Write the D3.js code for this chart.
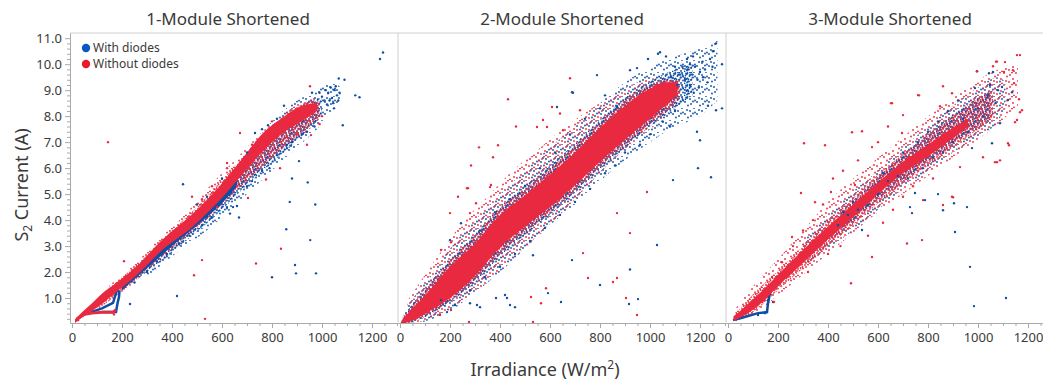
<!DOCTYPE html>
<html lang="en">
<head>
<meta charset="utf-8">
<title>S2 Current vs Irradiance</title>
<script src="https://d3js.org/d3.v7.min.js"></script>
<style>
  body { margin: 0; background: #fff; }
  text { font-family: "Noto Sans", "Open Sans", sans-serif; fill: #3a3a3a; }
</style>
</head>
<body>
<script>
const panelTitles = ["1-Module Shortened", "2-Module Shortened", "3-Module Shortened"];
const seriesNames = ["With diodes", "Without diodes"];
const xTicks = [0, 200, 400, 600, 800, 1000, 1200];
const yTicks = [1, 2, 3, 4, 5, 6, 7, 8, 9, 10, 11];

// point clouds read off as bands: [irradiance, low current, high current]
// sparse = thin scatter, dense = thick scatter, core = solid
const p1BlueSparse = [[300,1.8,2.5],[400,2.6,3.4],[500,3.3,4.4],[600,4.1,5.4],[700,5.0,6.6],[800,5.9,7.8],[900,6.8,8.6],[980,7.5,9.0],[1040,8.2,9.3],[1075,8.5,9.1]];
const p1RedSparse = [[150,0.9,1.5],[250,1.6,2.3],[350,2.5,3.3],[450,3.3,4.2],[550,4.1,5.3],[650,5.0,6.3],[750,5.9,7.3],[850,6.8,8.1],[950,7.5,8.7],[990,7.9,8.7]];
const p1BlueDense = [[200,1.3,1.7],[300,2.0,2.6],[400,2.75,3.35],[500,3.55,4.3],[600,4.4,5.3],[700,5.35,6.35],[800,6.2,7.45],[900,7.05,8.3],[960,7.6,8.6],[1000,8.0,8.7]];
const p1RedDense = [[100,0.55,1.0],[200,1.25,1.8],[300,2.1,2.65],[400,2.9,3.6],[500,3.75,4.5],[600,4.6,5.55],[700,5.5,6.55],[800,6.4,7.6],[900,7.2,8.35],[960,7.7,8.6],[990,8.0,8.55]];
const p1BlueCore = [[200,1.3,1.5],[300,2.15,2.4],[400,3.0,3.3],[500,3.8,4.1],[600,4.65,5.0],[660,5.3,5.6]];
const p1RedCore = [[12,0.04,0.18],[40,0.25,0.45],[80,0.5,0.8],[130,0.85,1.25],[180,1.25,1.6],[256,1.85,2.2],[356,2.8,3.2],[484,3.75,4.25],[590,4.75,5.3],[676,5.7,6.3],[764,6.65,7.35],[850,7.4,8.0],[920,7.8,8.4],[980,8.2,8.5]];
const p1BlueTracks = [[[76,0.46],[120,0.6],[164,0.81],[176,1.19],[186,1.45]], [[120,0.46],[176,0.46],[182,0.8],[188,1.04],[190,1.3]]];
const p1RedTracks = [[[20,0.2],[50,0.38],[80,0.42],[120,0.45],[165,0.45],[175,0.55]]];
const p1BluePts = [[1232,10.2],[1244,10.45],[1133,8.8],[1150,8.73],[1083,7.65],[1090,9.4],[1067,9.45],[880,5.6],[943,5.45],[871,4.7],[973,4.6],[857,3.65],[953,3.23],[892,2.27],[896,1.95],[976,1.95],[800,1.8],[420,1.08],[232,0.77],[444,5.38],[668,4.1],[644,4.5],[632,4.25],[732,7.35],[784,7.65],[848,8.4],[908,6.27],[660,4.54],[1010,8.6],[1025,8.9],[1040,8.7],[1050,9.0],[1060,8.8],[1035,9.1],[1020,8.45],[1045,8.5],[1055,9.15],[1070,8.9],[1000,8.75],[1030,8.6],[1065,8.6],[1015,9.0],[1048,8.3],[990,8.9],[960,8.9],[970,7.6],[940,7.4],[920,7.3],[880,7.0],[860,6.9],[820,6.5],[790,6.0],[760,5.9],[720,5.5],[700,5.3],[620,4.5],[560,4.1],[520,3.8],[470,3.4],[430,3.1],[380,2.7],[340,2.4],[300,2.0],[250,1.6],[600,5.6],[700,6.6],[820,7.9],[760,7.5],[540,4.9],[500,4.6]];
const p1RedPts = [[144,7.0],[952,9.15],[836,2.9],[520,2.46],[736,2.33],[488,1.88],[532,0.2],[208,2.42],[672,7.35],[168,0.37],[24,0.15],[832,6.0],[776,5.56],[704,4.85],[940,6.9],[956,7.27],[480,4.9],[560,5.3],[620,6.0],[720,6.9],[800,7.8],[660,5.3],[580,4.5],[900,7.3],[860,7.2],[990,7.7],[1000,8.0],[620,6.2],[520,4.8]];

const p2BlueSparse = [[20,0.0,0.6],[100,0.1,1.6],[200,0.5,2.9],[300,1.2,4.0],[400,2.0,5.0],[500,2.9,5.9],[600,3.8,6.8],[700,4.6,7.6],[800,5.5,8.5],[900,6.3,9.3],[1000,7.0,9.9],[1100,7.6,10.3],[1200,8.0,10.6],[1270,8.6,10.9]];
const p2RedSparse = [[30,0.0,0.9],[150,0.3,2.6],[250,0.9,3.9],[350,1.6,4.9],[450,2.5,5.9],[550,3.4,6.7],[650,4.3,7.5],[750,5.3,8.2],[850,6.3,8.8],[950,7.1,9.3],[1050,7.9,9.5],[1110,8.5,9.4]];
const p2BlueDense = [[10,0.0,0.3],[100,0.25,1.35],[200,0.85,2.45],[300,1.6,3.45],[400,2.6,4.5],[500,3.45,5.3],[600,4.2,6.1],[700,5.05,6.95],[800,5.95,7.85],[900,6.8,8.7],[1000,7.6,9.35],[1100,8.3,9.8],[1170,8.8,10.0]];
const p2RedDense = [[10,0.0,0.25],[100,0.3,1.3],[200,0.9,2.45],[300,1.7,3.4],[400,2.7,4.45],[500,3.55,5.2],[600,4.3,6.0],[700,5.15,6.85],[800,6.05,7.75],[900,6.9,8.6],[1000,7.7,9.2],[1080,8.3,9.4],[1120,8.7,9.35]];
const p2BlueCore = [];
const p2RedCore = [[5,0.02,0.12],[40,0.1,0.5],[100,0.4,1.1],[200,1.0,2.2],[300,1.85,3.1],[400,2.95,4.2],[500,3.75,4.95],[600,4.5,5.75],[700,5.35,6.6],[800,6.25,7.55],[900,7.1,8.4],[1000,7.9,9.05],[1060,8.4,9.3],[1110,8.8,9.3]];
const p2BlueTracks = [[[5,0.02],[60,0.3],[120,0.8],[160,1.2]]];
const p2RedTracks = [];
const p2BluePts = [[1264,10.8],[1252,10.5],[1032,10.4],[1064,10.3],[788,9.58],[692,8.9],[1288,10.0],[1288,8.3],[1264,8.23],[1232,8.4],[1200,7.07],[1188,7.4],[1244,5.65],[1092,5.54],[1212,9.5],[1160,10.0],[1172,10.3],[1148,10.2],[920,9.77],[948,9.85],[868,8.35],[820,8.8],[1040,10.46],[992,10.2],[688,8.92],[628,8.35],[1192,6.0],[1028,3.04],[920,2.1],[952,0.96],[916,0.77],[800,1.5],[688,2.46],[532,2.65],[428,1.0],[384,1.0],[308,0.73],[440,0.73],[220,0.73],[188,0.46],[200,3.23],[244,3.88],[164,0.92],[280,0.8],[420,1.12],[460,0.65],[320,0.65],[592,1.19],[644,0.85],[1120,9.6],[1140,9.4],[1150,9.8],[1160,9.2],[1170,9.6],[1180,9.9],[1130,9.9],[1190,9.4],[1200,9.7],[1210,10.1],[1220,9.8],[1110,9.2],[1150,9.0],[1175,8.9],[1195,9.1],[1230,9.3],[1240,10.2],[1250,9.9],[1100,9.9],[1085,9.5],[1100,8.2],[1080,7.6],[1050,7.8],[1000,7.3],[960,6.9],[900,6.6],[860,6.1],[820,5.8],[760,5.2],[700,4.7],[640,4.2],[580,3.7],[520,3.2],[460,2.7],[400,2.2],[340,1.8],[280,1.3],[500,5.3],[560,6.0],[620,6.6],[680,7.3],[740,7.9],[800,8.3],[440,4.8],[380,4.3],[320,3.6]];
const p2RedPts = [[680,9.46],[432,8.65],[464,7.6],[316,6.8],[392,6.88],[284,6.1],[372,6.42],[268,5.23],[232,4.9],[200,4.27],[280,4.27],[360,5.27],[548,7.58],[868,4.27],[988,5.08],[868,1.77],[852,1.62],[904,1.0],[948,0.35],[532,0.08],[276,0.08],[752,1.77],[732,2.73],[920,3.5],[608,8.35],[572,7.85],[588,7.58],[640,8.1],[720,8.23],[652,7.46],[272,5.23],[304,4.65],[204,3.15],[164,2.85],[364,5.35],[524,1.04],[584,1.38],[564,0.8],[204,0.54],[160,0.35]];

const p3BlueSparse = [[300,2.2,3.2],[400,2.9,4.2],[500,3.6,5.1],[600,4.4,5.9],[700,5.2,6.8],[800,5.9,7.6],[900,6.6,8.4],[1000,7.2,9.1],[1080,7.8,9.5],[1110,8.3,9.3]];
const p3RedSparse = [[30,0.1,0.6],[100,0.35,1.45],[200,1.1,2.5],[300,1.9,3.6],[400,2.7,4.7],[500,3.5,5.6],[600,4.3,6.4],[700,5.0,7.2],[800,5.7,8.0],[900,6.4,8.7],[1000,7.1,9.4],[1080,7.7,9.8],[1160,8.4,10.1]];
const p3BlueDense = [[450,3.6,4.3],[550,4.4,5.2],[650,5.2,6.1],[750,5.9,6.9],[850,6.6,7.7],[950,7.3,8.4],[1050,7.9,9.0]];
const p3RedDense = [[30,0.1,0.4],[100,0.45,1.15],[200,1.3,2.05],[300,2.15,3.0],[400,3.0,4.0],[500,3.8,4.85],[600,4.65,5.75],[700,5.4,6.55],[800,6.1,7.3],[900,6.8,8.0],[1000,7.5,8.7],[1060,7.9,9.0]];
const p3BlueCore = [];
const p3RedCore = [[22,0.12,0.3],[60,0.3,0.6],[100,0.55,0.95],[150,0.95,1.4],[200,1.45,1.9],[300,2.35,2.85],[400,3.25,3.75],[500,4.1,4.6],[600,5.0,5.45],[700,5.8,6.25],[800,6.45,6.9],[900,7.15,7.55],[960,7.6,7.9]];
const p3BlueTracks = [[[20,0.15],[60,0.25],[120,0.42],[156,0.46],[160,0.8],[166,1.1],[172,1.3]]];
const p3RedTracks = [];
const p3BluePts = [[968,2.2],[984,0.69],[1112,1.0],[908,3.54],[860,4.38],[956,4.5],[1056,6.96],[1120,8.62],[1048,9.2],[1060,9.7],[996,9.73],[748,5.04],[788,4.77],[736,4.27],[536,3.62],[148,0.42],[120,0.35],[160,0.92],[180,0.85],[1044,9.65],[988,9.08],[1096,9.12],[1136,8.92],[1088,7.73],[976,6.77],[904,4.65],[840,5.0],[728,4.5],[1000,8.3],[1020,8.0],[960,7.4],[940,7.9],[900,7.0],[860,6.6],[820,6.4],[780,6.0],[720,5.6],[680,5.7],[640,5.5],[600,5.0],[560,4.6],[520,4.4],[480,4.2],[440,3.8],[460,4.3],[500,4.7],[620,5.8],[700,6.6],[760,7.0],[800,7.4],[840,7.8],[880,8.2],[920,8.6],[1040,8.8],[1070,8.5],[1080,9.0]];
const p3RedPts = [[304,6.96],[388,6.88],[292,5.04],[348,4.69],[496,7.38],[576,6.81],[652,8.5],[700,8.04],[760,8.81],[860,9.15],[996,9.73],[1072,10.1],[1156,10.35],[1168,10.35],[1108,10.08],[1140,9.77],[1168,8.15],[1156,7.85],[1120,6.96],[1068,6.23],[1088,6.3],[896,4.9],[776,3.23],[716,3.1],[576,2.58],[492,1.57],[412,5.08],[508,5.35],[184,0.85],[256,3.35],[216,2.38],[176,1.81],[720,6.38],[800,6.42],[696,7.35],[928,6.04],[1060,9.92],[1076,10.1],[1104,9.7],[1144,9.27],[1164,8.65],[1176,8.23],[1148,7.77],[1124,6.88],[1076,6.23],[1020,6.42],[896,8.88],[848,8.38],[764,8.8],[656,8.5],[536,7.42],[900,4.88],[860,4.58],[780,4.77],[340,4.0],[380,4.6],[420,5.6],[460,5.9],[520,6.3],[600,7.0],[640,7.6],[560,3.4],[620,3.9],[660,4.4],[700,4.9],[740,5.3],[820,5.6],[300,3.6],[260,3.0],[320,2.0],[400,2.7],[450,3.0]];

const panelData = [
  {blueSparse: p1BlueSparse, redSparse: p1RedSparse, blueDense: p1BlueDense, redDense: p1RedDense, blueCore: p1BlueCore, redCore: p1RedCore, blueTracks: p1BlueTracks, redTracks: p1RedTracks, bluePts: p1BluePts, redPts: p1RedPts},
  {blueSparse: p2BlueSparse, redSparse: p2RedSparse, blueDense: p2BlueDense, redDense: p2RedDense, blueCore: p2BlueCore, redCore: p2RedCore, blueTracks: p2BlueTracks, redTracks: p2RedTracks, bluePts: p2BluePts, redPts: p2RedPts},
  {blueSparse: p3BlueSparse, redSparse: p3RedSparse, blueDense: p3BlueDense, redDense: p3RedDense, blueCore: p3BlueCore, redCore: p3RedCore, blueTracks: p3BlueTracks, redTracks: p3RedTracks, bluePts: p3BluePts, redPts: p3RedPts}
];

const W = 1043, H = 384;
const blue = "#0d4ea6", red = "#e8293f";
const panelLefts = [70, 398, 726];
const panelW = 328;
const plotTop = 33, plotBottom = 323;

const svg = d3.select("body").append("svg")
    .attr("width", W)
    .attr("height", H);

// speckle textures for the thick parts of the clouds
const defs = svg.append("defs");
const denseDots = [[1,1],[4.5,2],[8,0.5],[10.5,3],[2.5,4.5],[6,5],[9,6.5],[0.5,8],[4,8.5],[7,9],[11,9.5],[2,11],[5.5,11.5],[9,11.8],[6.5,2.5],[11.5,6],[3.5,6.8],[7.5,7],[1,5.8],[10,0.8],[5,10],[8.5,4]];
const sparseDots = [[2,3],[8,1],[5,7],[10,9],[1,10],[11,4.5],[6,11.5],[4,0.5]];
function speckle(id, color, dots, shift) {
  const p = defs.append("pattern")
      .attr("id", id)
      .attr("patternUnits", "userSpaceOnUse")
      .attr("width", 12)
      .attr("height", 12);
  p.selectAll("circle").data(dots).enter().append("circle")
      .attr("cx", d => (d[0] + shift) % 12)
      .attr("cy", d => (d[1] + shift) % 12)
      .attr("r", 0.9)
      .attr("fill", color);
}
speckle("blueDense", blue, denseDots, 6.5);
speckle("redDense", red, denseDots, 0);
speckle("blueSparse", blue, sparseDots, 5);
speckle("redSparse", red, sparseDots, 0);

const y = d3.scaleLinear().domain([0.04, 11.2]).range([plotBottom, plotTop]);

panelData.forEach((pd, i) => {
  const left = panelLefts[i];
  const x = d3.scaleLinear().domain([-8, 1304]).range([left, left + panelW]);

  defs.append("clipPath").attr("id", "clip" + i)
    .append("rect").attr("x", left).attr("y", plotTop).attr("width", panelW).attr("height", plotBottom - plotTop);

  const g = svg.append("g").attr("clip-path", `url(#clip${i})`);

  const area = d3.area()
      .x(d => x(d[0]))
      .y0(d => y(d[1]))
      .y1(d => y(d[2]))
      .curve(d3.curveMonotoneX);
  const line = d3.line()
      .x(d => x(d[0]))
      .y(d => y(d[1]));

  g.append("path").datum(pd.blueSparse).attr("d", area).attr("fill", "url(#blueSparse)");
  g.append("path").datum(pd.redSparse).attr("d", area).attr("fill", "url(#redSparse)");
  g.append("path").datum(pd.blueDense).attr("d", area).attr("fill", "url(#blueDense)");
  g.append("path").datum(pd.redDense).attr("d", area).attr("fill", "url(#redDense)");
  if (pd.blueCore.length) g.append("path").datum(pd.blueCore).attr("d", area).attr("fill", blue);

  g.selectAll("path.btrack").data(pd.blueTracks).enter().append("path")
      .attr("class", "btrack")
      .attr("d", line).attr("fill", "none").attr("stroke", blue).attr("stroke-width", 2.5);

  g.append("path").datum(pd.redCore).attr("d", area).attr("fill", red);

  g.selectAll("path.rtrack").data(pd.redTracks).enter().append("path")
      .attr("class", "rtrack")
      .attr("d", line).attr("fill", "none").attr("stroke", red).attr("stroke-width", 3);

  g.selectAll("circle.blue").data(pd.bluePts).enter().append("circle")
      .attr("class", "blue")
      .attr("cx", d => x(d[0])).attr("cy", d => y(d[1])).attr("r", 1.2).attr("fill", blue);
  g.selectAll("circle.red").data(pd.redPts).enter().append("circle")
      .attr("class", "red")
      .attr("cx", d => x(d[0])).attr("cy", d => y(d[1])).attr("r", 1.2).attr("fill", red);

  // x axis with minor ticks
  svg.append("g")
      .attr("transform", `translate(0,${plotBottom})`)
      .call(d3.axisBottom(x).tickValues(d3.range(50, 1301, 50).filter(v => v % 200 !== 0)).tickSize(3).tickFormat(""))
      .call(a => a.select(".domain").remove())
      .call(a => a.selectAll("line").attr("stroke", "#aaa"));
  const xa = svg.append("g")
      .attr("transform", `translate(0,${plotBottom})`)
      .call(d3.axisBottom(x).tickValues(xTicks).tickSize(5).tickPadding(5).tickSizeOuter(0).tickFormat(d3.format("d")));
  xa.select(".domain").attr("stroke", "#aaa");
  xa.selectAll("line").attr("stroke", "#aaa");
  xa.selectAll("text").attr("font-size", 13).attr("fill", "#3a3a3a")
      .attr("font-family", "'Noto Sans', sans-serif");

  // panel frame
  svg.append("line").attr("x1", left).attr("x2", left + panelW).attr("y1", plotTop).attr("y2", plotTop)
      .attr("stroke", "#d0d0d0");
  if (i > 0) {
    svg.append("line").attr("x1", left).attr("x2", left).attr("y1", plotTop).attr("y2", plotBottom)
        .attr("stroke", "#d0d0d0");
  }

  svg.append("text")
      .attr("x", left + panelW / 2 - (i === 0 ? 6 : 0))
      .attr("y", 25)
      .attr("text-anchor", "middle")
      .attr("font-size", 17)
      .text(panelTitles[i]);
});

// y axis on the first panel
svg.append("g")
    .attr("transform", `translate(${panelLefts[0]},0)`)
    .call(d3.axisLeft(y).tickValues(d3.range(0.2, 11.2, 0.2).filter(v => Math.abs(v - Math.round(v)) > 0.01)).tickSize(3).tickFormat(""))
    .call(a => a.select(".domain").remove())
    .call(a => a.selectAll("line").attr("stroke", "#aaa"));
const ya = svg.append("g")
    .attr("transform", `translate(${panelLefts[0]},0)`)
    .call(d3.axisLeft(y).tickValues(yTicks).tickSize(5).tickPadding(3).tickSizeOuter(0).tickFormat(d3.format(".1f")));
ya.select(".domain").attr("stroke", "#aaa");
ya.selectAll("line").attr("stroke", "#aaa");
ya.selectAll("text").attr("font-size", 13).attr("fill", "#3a3a3a")
    .attr("font-family", "'Noto Sans', sans-serif");

// axis titles
const yl = svg.append("text")
    .attr("transform", "translate(28,185) rotate(-90)")
    .attr("text-anchor", "middle")
    .attr("font-size", 18);
yl.append("tspan").text("S");
yl.append("tspan").attr("font-size", 12).attr("dy", 4).text("2");
yl.append("tspan").attr("dy", -4).text(" Current (A)");

const xl = svg.append("text")
    .attr("x", 545)
    .attr("y", 376)
    .attr("text-anchor", "middle")
    .attr("font-size", 18);
xl.append("tspan").text("Irradiance (W/m");
xl.append("tspan").attr("font-size", 12).attr("dy", -7).text("2");
xl.append("tspan").attr("dy", 7).text(")");

// legend
const legend = svg.append("g").attr("transform", "translate(86,48)");
["#0a58c4", "#e81b2a"].forEach((c, k) => {
  legend.append("circle").attr("cx", 0).attr("cy", k * 16).attr("r", 4.2).attr("fill", c);
  legend.append("text").attr("x", 7).attr("y", k * 16 + 4).attr("font-size", 12).attr("fill", "#444")
      .text(seriesNames[k]);
});
</script>
</body>
</html>
